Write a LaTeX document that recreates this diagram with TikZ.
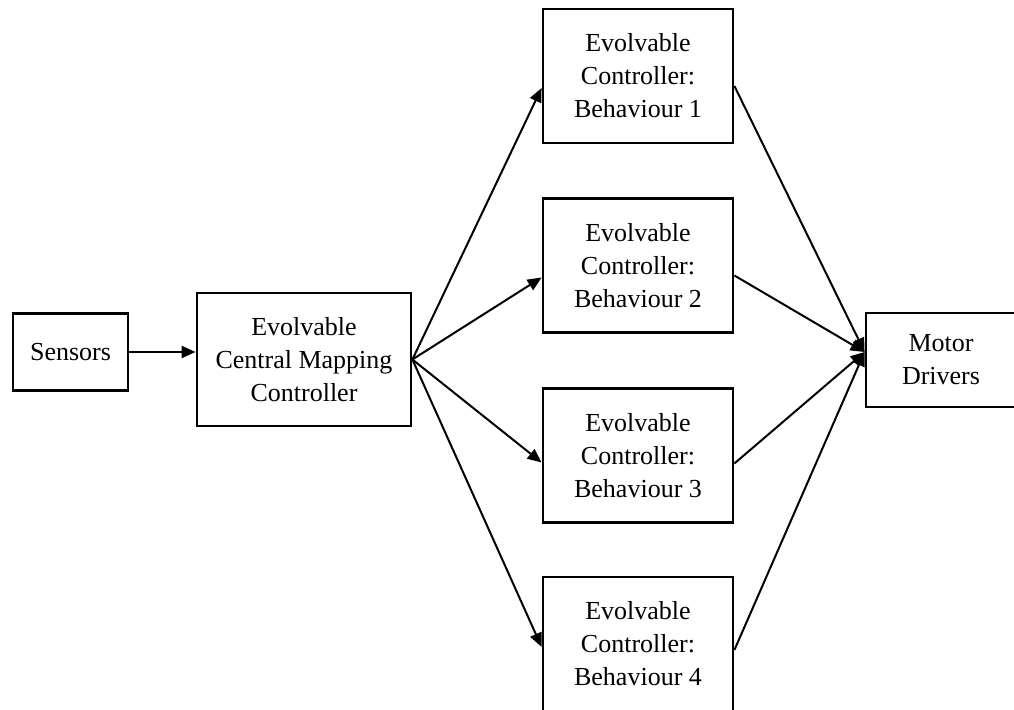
\documentclass[tikz,border=0pt]{standalone}
\usepackage{fontspec}
\setmainfont{Liberation Serif}
\usetikzlibrary{arrows.meta,positioning,calc}
\tikzset{
  block/.style={draw=black, line width=1.4pt, fill=white, align=center, inner sep=2pt,
    font=\fontsize{13pt}{16.5pt}\selectfont},
  sensbox/.style={block, minimum width=57.5pt, minimum height=38.5pt},
  mapbox/.style={block, minimum width=107pt, minimum height=66.5pt},
  behbox/.style={block, minimum width=95pt, minimum height=67pt},
  motorbox/.style={block, minimum width=75pt, minimum height=47pt},
  flow/.style={draw=black, line width=1pt, -{Triangle[length=7pt,width=6pt]}},
}

\begin{document}
\begin{tikzpicture}[x=0.5pt,y=-0.5pt]
\useasboundingbox (0,0) rectangle (1014,710);
\clip (0,0) rectangle (1014,710);

% ----- input side -----
\node[sensbox] (sens) at (70.5,352) {Sensors};
\node[mapbox] (cmc) at (304,359.5) {Evolvable\\Central Mapping\\Controller};

% ----- behaviour controllers -----
\node[behbox] (beh1) at (638,76) {Evolvable\\Controller:\\Behaviour 1};
\node[behbox] (beh2) at (638,265.5) {Evolvable\\Controller:\\Behaviour 2};
\node[behbox] (beh3) at (638,455.5) {Evolvable\\Controller:\\Behaviour 3};
\node[behbox] (beh4) at (638,644) {Evolvable\\Controller:\\Behaviour 4};

% ----- output -----
\node[motorbox] (motor) at (941,360) {Motor\\Drivers};

% ----- flows -----
\draw[flow] (sens.east) -- (sens.east -| cmc.west);

\draw[flow] (cmc.east) -- ([yshift=-6pt]beh1.west);
\draw[flow] (cmc.east) -- ([yshift=-6pt]beh2.west);
\draw[flow] (cmc.east) -- ([yshift=-3.5pt]beh3.west);
\draw[flow] (cmc.east) -- ([yshift=-1.5pt]beh4.west);

\draw[flow] ([yshift=-5pt]beh1.east) -- ([yshift=4pt]motor.west);
\draw[flow] ([yshift=-5pt]beh2.east) -- ([yshift=4pt]motor.west);
\draw[flow] ([yshift=-4pt]beh3.east) -- ([yshift=4pt]motor.west);
\draw[flow] ([yshift=-3pt]beh4.east) -- ([yshift=4pt]motor.west);

\end{tikzpicture}
\end{document}
